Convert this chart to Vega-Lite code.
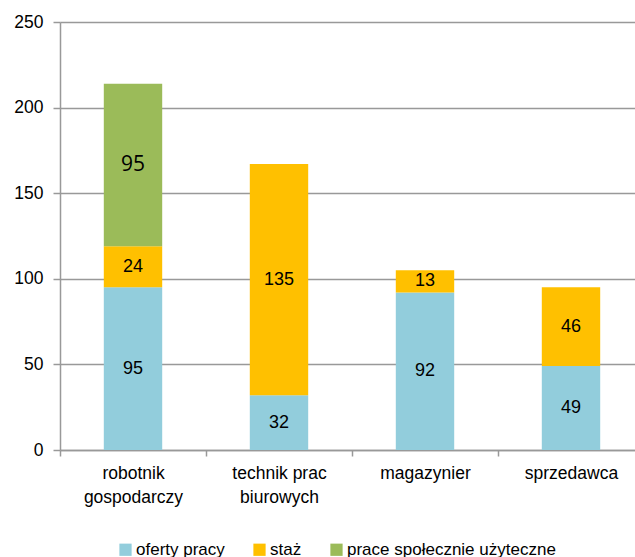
{
  "$schema": "https://vega.github.io/schema/vega-lite/v6.json",
  "width": 575,
  "height": 428,
  "autosize": {"type": "none"},
  "padding": {"left": 60, "top": 22, "right": 0, "bottom": 107},
  "background": "white",
  "config": {
    "view": {"stroke": null},
    "font": "Liberation Sans",
    "axis": {
      "labelFont": "Liberation Sans",
      "labelFontSize": 17.5,
      "labelColor": "#000000",
      "domainColor": "#999999",
      "domainWidth": 1.5,
      "tickColor": "#999999",
      "tickWidth": 1.5,
      "gridColor": "#999999",
      "gridWidth": 1.5,
      "title": null
    }
  },
  "data": {
    "values": [
      {"category": "robotnik gospodarczy", "series": "oferty pracy", "value": 95},
      {"category": "robotnik gospodarczy", "series": "staż", "value": 24},
      {"category": "robotnik gospodarczy", "series": "prace społecznie użyteczne", "value": 95},
      {"category": "technik prac biurowych", "series": "oferty pracy", "value": 32},
      {"category": "technik prac biurowych", "series": "staż", "value": 135},
      {"category": "magazynier", "series": "oferty pracy", "value": 92},
      {"category": "magazynier", "series": "staż", "value": 13},
      {"category": "sprzedawca", "series": "oferty pracy", "value": 49},
      {"category": "sprzedawca", "series": "staż", "value": 46}
    ]
  },
  "transform": [
    {"calculate": "indexof(['oferty pracy','staż','prace społecznie użyteczne'], datum.series)", "as": "ord"},
    {"stack": "value", "groupby": ["category"], "sort": [{"field": "ord", "order": "ascending"}], "as": ["y0", "y1"]},
    {"calculate": "(datum.y0 + datum.y1) / 2", "as": "mid"}
  ],
  "encoding": {
    "x": {
      "field": "category",
      "type": "nominal",
      "sort": ["robotnik gospodarczy", "technik prac biurowych", "magazynier", "sprzedawca"],
      "scale": {"range": [0, 584], "paddingInner": 0, "paddingOuter": 0},
      "axis": {
        "labelAngle": 0,
        "tickBand": "extent",
        "tickSize": 6,
        "labelPadding": 8,
        "labelLineHeight": 24,
        "labelBaseline": "top",
        "labelExpr": "datum.label == 'robotnik gospodarczy' ? ['robotnik','gospodarczy'] : datum.label == 'technik prac biurowych' ? ['technik prac','biurowych'] : datum.label"
      }
    }
  },
  "layer": [
    {
      "mark": {"type": "bar", "width": {"band": 0.4}},
      "encoding": {
        "y": {
          "field": "y1",
          "type": "quantitative",
          "scale": {"domain": [0, 250], "nice": false},
          "axis": {"values": [0, 50, 100, 150, 200, 250], "grid": true, "tickSize": 7, "labelPadding": 10, "domain": true}
        },
        "y2": {"field": "y0"},
        "color": {
          "field": "series",
          "type": "nominal",
          "sort": ["oferty pracy", "staż", "prace społecznie użyteczne"],
          "scale": {
            "domain": ["oferty pracy", "staż", "prace społecznie użyteczne"],
            "range": ["#92CDDC", "#FFC000", "#9BBB59"]
          },
          "legend": {
            "title": null,
            "orient": "none",
            "direction": "horizontal",
            "legendX": 57,
            "legendY": 519,
            "symbolType": "square",
            "symbolSize": 150,
            "symbolStrokeWidth": 0,
            "labelFontSize": 17,
            "labelFont": "Liberation Sans",
            "labelColor": "#000000",
            "labelOffset": 2,
            "labelLimit": 0,
            "columnPadding": 26
          }
        }
      }
    },
    {
      "transform": [{"filter": "datum.series != 'prace społecznie użyteczne'"}],
      "mark": {"type": "text", "fontSize": 18, "font": "Liberation Sans", "color": "#000000", "baseline": "middle"},
      "encoding": {
        "y": {"field": "mid", "type": "quantitative"},
        "text": {"field": "value", "type": "quantitative"}
      }
    },
    {
      "transform": [{"filter": "datum.series == 'prace społecznie użyteczne'"}],
      "mark": {"type": "text", "fontSize": 21, "font": "Open Sans", "color": "#000000", "baseline": "middle"},
      "encoding": {
        "y": {"field": "mid", "type": "quantitative"},
        "text": {"field": "value", "type": "quantitative"}
      }
    }
  ]
}
